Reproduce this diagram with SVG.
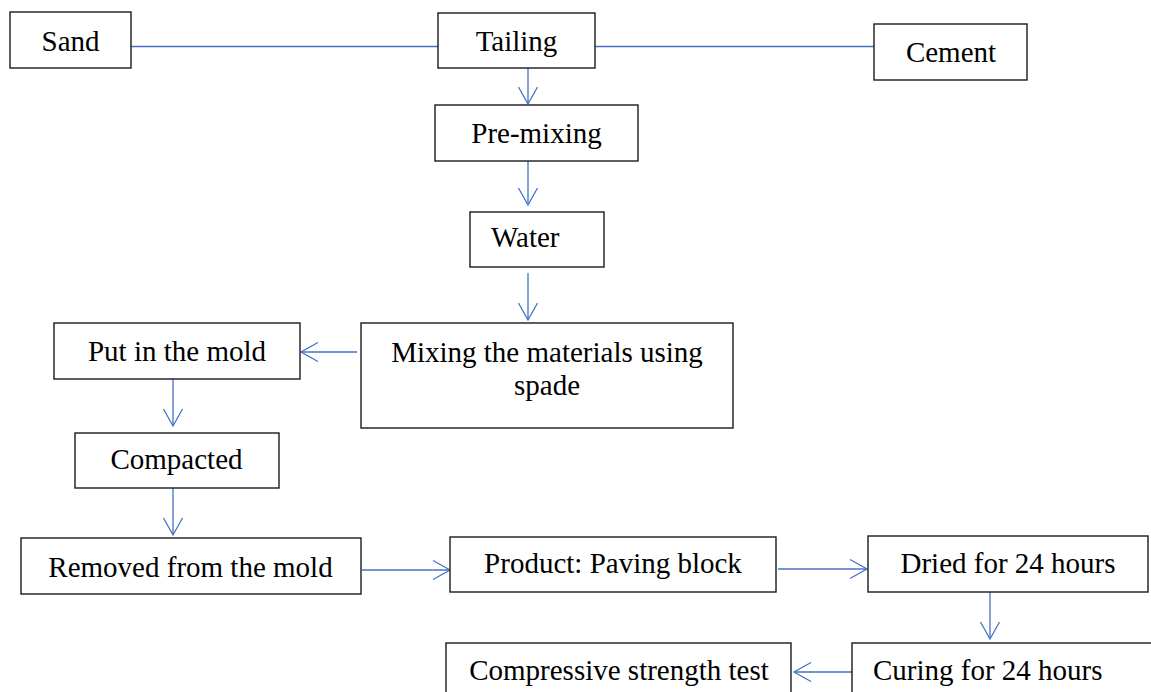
<svg xmlns="http://www.w3.org/2000/svg" width="1151" height="692" viewBox="0 0 1151 692">
<style>
.box{fill:#fff;stroke:#1a1a1a;stroke-width:1.4}
.t{font-family:"Liberation Serif","Times New Roman",serif;font-size:29px;fill:#000}
.c{text-anchor:middle}
.ln{stroke:#4472C4;stroke-width:1.3;fill:none}
</style>
<defs>
<marker id="ah" viewBox="-19 -11 21 22" markerWidth="21" markerHeight="22" refX="0" refY="0" markerUnits="userSpaceOnUse" orient="auto">
<path d="M-17,-9.5 L0,0 L-17,9.5" fill="none" stroke="#4472C4" stroke-width="1.3"/>
</marker>
</defs>
<rect width="1151" height="692" fill="#fff"/>
<g id="connectors">
<line class="ln" x1="131" y1="46.5" x2="438" y2="46.5"/>
<line class="ln" x1="595" y1="46.5" x2="874" y2="46.5"/>
<line class="ln" x1="528" y1="68" x2="528" y2="104" marker-end="url(#ah)"/>
<line class="ln" x1="528" y1="161" x2="528" y2="205" marker-end="url(#ah)"/>
<line class="ln" x1="528" y1="273" x2="528" y2="320" marker-end="url(#ah)"/>
<line class="ln" x1="357" y1="352" x2="301" y2="352" marker-end="url(#ah)"/>
<line class="ln" x1="173" y1="379" x2="173" y2="426" marker-end="url(#ah)"/>
<line class="ln" x1="173" y1="488" x2="173" y2="535" marker-end="url(#ah)"/>
<line class="ln" x1="362" y1="570" x2="450" y2="570" marker-end="url(#ah)"/>
<line class="ln" x1="778" y1="569" x2="867" y2="569" marker-end="url(#ah)"/>
<line class="ln" x1="990" y1="592" x2="990" y2="639" marker-end="url(#ah)"/>
<line class="ln" x1="852" y1="672" x2="794" y2="672" marker-end="url(#ah)"/>
</g>
<g id="sand"><rect class="box" x="10" y="12" width="121" height="56"/><text class="t c" x="70.5" y="51">Sand</text></g>
<g id="tailing"><rect class="box" x="438" y="13" width="157" height="55"/><text class="t c" x="516.5" y="51">Tailing</text></g>
<g id="cement"><rect class="box" x="874" y="24" width="153" height="56"/><text class="t c" x="951" y="62">Cement</text></g>
<g id="premixing"><rect class="box" x="435" y="105" width="203" height="56"/><text class="t c" x="536.5" y="143">Pre-mixing</text></g>
<g id="water"><rect class="box" x="470" y="212" width="134" height="55"/><text class="t" x="491" y="247">Water</text></g>
<g id="mixing"><rect class="box" x="361" y="323" width="372" height="105"/><text class="t c" x="547" y="362">Mixing the materials using</text><text class="t c" x="547" y="395">spade</text></g>
<g id="mold"><rect class="box" x="54" y="323" width="246" height="56"/><text class="t c" x="177" y="361">Put in the mold</text></g>
<g id="compacted"><rect class="box" x="75" y="433" width="204" height="55"/><text class="t c" x="176.5" y="469">Compacted</text></g>
<g id="removed"><rect class="box" x="21" y="538" width="340" height="56"/><text class="t c" x="190.5" y="577">Removed from the mold</text></g>
<g id="product"><rect class="box" x="450" y="537" width="326" height="55"/><text class="t c" x="613" y="573">Product: Paving block</text></g>
<g id="dried"><rect class="box" x="868" y="536" width="280" height="56"/><text class="t c" x="1008" y="573">Dried for 24 hours</text></g>
<g id="curing"><rect class="box" x="852" y="643" width="310" height="60"/><text class="t" x="873" y="680">Curing for 24 hours</text></g>
<g id="compressive"><rect class="box" x="446" y="643" width="345" height="60"/><text class="t c" x="619" y="680">Compressive strength test</text></g>
</svg>
